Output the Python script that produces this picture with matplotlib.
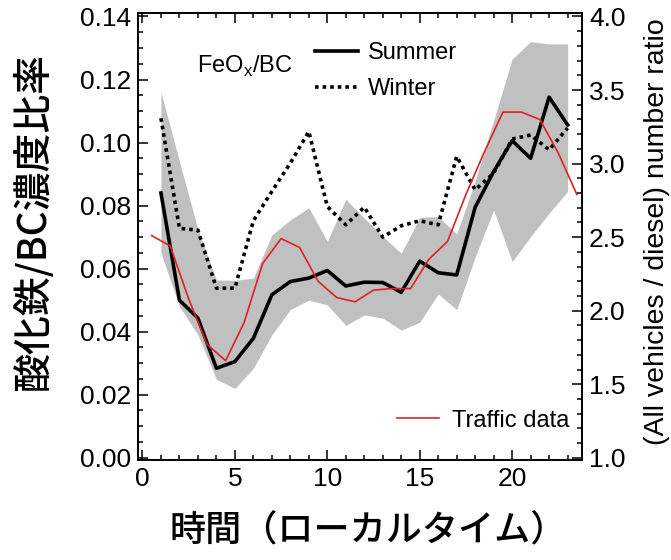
import matplotlib
matplotlib.use("Agg")
import matplotlib.pyplot as plt
from matplotlib.ticker import MultipleLocator
from matplotlib.lines import Line2D

plt.rcParams['font.family'] = ['Liberation Sans', 'Noto Sans CJK JP', 'DejaVu Sans']
plt.rcParams['mathtext.fontset'] = 'custom'
plt.rcParams['mathtext.rm'] = 'Liberation Sans'

# 時刻 (ローカルタイム)
hours = list(range(1, 24))
traffic_hours = [h + 0.5 for h in range(0, 24)]

# FeOx/BC 比 (夏・冬) と夏の変動幅
summer = [0.084, 0.050, 0.0443, 0.0284, 0.0305, 0.0379, 0.0517, 0.0559, 0.057, 0.0594,
          0.0545, 0.0557, 0.0556, 0.0525, 0.0624, 0.0587, 0.058, 0.0795, 0.0908, 0.1006,
          0.095, 0.1144, 0.1056]
winter = [0.1077, 0.0728, 0.0722, 0.0538, 0.0538, 0.0752, 0.0845, 0.0935, 0.1035, 0.0797,
          0.0739, 0.0795, 0.070, 0.0736, 0.0752, 0.0739, 0.0956, 0.085, 0.0903, 0.1011,
          0.1024, 0.0977, 0.1046]
band_upper = [0.116, 0.094, 0.0725, 0.0564, 0.0563, 0.057, 0.0707, 0.0755, 0.0793, 0.0686,
              0.082, 0.076, 0.0702, 0.0649, 0.0763, 0.0765, 0.071, 0.0878, 0.107, 0.1265,
              0.132, 0.1313, 0.1313]
band_lower = [0.065, 0.048, 0.039, 0.0249, 0.022, 0.0284, 0.039, 0.047, 0.050, 0.0485,
              0.042, 0.0453, 0.0443, 0.0405, 0.043, 0.052, 0.047, 0.0637, 0.0786, 0.0622,
              0.0702, 0.0776, 0.0845]

# 交通量データ (全車両 / ディーゼル車 台数比)
traffic = [2.51, 2.44, 2.08, 1.77, 1.66, 1.92, 2.32, 2.49, 2.43, 2.20, 2.09, 2.06,
           2.14, 2.15, 2.15, 2.35, 2.47, 2.79, 3.08, 3.35, 3.35, 3.30, 3.07, 2.79]

fig = plt.figure(figsize=(6.71, 5.6), dpi=100)
ax = fig.add_axes([0.2057, 0.1786, 0.6617, 0.7982])
ax2 = ax.twinx()

ax.fill_between(hours, band_lower, band_upper, color='#c0c0c0', lw=0, zorder=1)
ax.plot(hours, summer, color='black', lw=2.6, zorder=3)
ax.plot(hours, winter, color='black', lw=2.6, linestyle=(0, (1, 1.1)), zorder=3)
ax2.plot(traffic_hours, traffic, color='#e02020', lw=1.2)

ax.set_xlim(-0.24, 23.78)
ax.set_ylim(-0.0007, 0.1411)
ax2.set_ylim(1 - 0.0007 * 3 / 0.14, 1 + 0.1411 * 3 / 0.14)

ax.xaxis.set_major_locator(MultipleLocator(5))
ax.xaxis.set_minor_locator(MultipleLocator(1))
ax.yaxis.set_major_locator(MultipleLocator(0.02))
ax.yaxis.set_minor_locator(MultipleLocator(0.005))
ax.yaxis.set_major_formatter(matplotlib.ticker.FormatStrFormatter('%.2f'))
ax2.yaxis.set_major_locator(MultipleLocator(0.5))
ax2.yaxis.set_minor_locator(MultipleLocator(0.1))
ax2.yaxis.set_major_formatter(matplotlib.ticker.FormatStrFormatter('%.1f'))

for a in (ax, ax2):
    a.tick_params(which='major', direction='in', length=7, width=1.1, labelsize=19, pad=5)
    a.tick_params(which='minor', direction='in', length=3.5, width=1.1)
    for s in a.spines.values():
        s.set_linewidth(1.2)
ax.tick_params(which='both', top=True, right=False)
ax2.tick_params(which='both', left=False, right=True)

# 凡例
leg = ax.legend(handles=[Line2D([], [], color='black', lw=2.6),
                         Line2D([], [], color='black', lw=2.6, linestyle=(0, (1, 1.1)))],
                labels=['Summer', 'Winter'], loc='upper left',
                bbox_to_anchor=(0.399, 0.935), frameon=False, fontsize=17,
                handlelength=1.8, handletextpad=0.45, labelspacing=0.6,
                borderpad=0, borderaxespad=0)
ax2.legend(handles=[Line2D([], [], color='#e02020', lw=1.2)], labels=['Traffic data'],
           loc='center left', bbox_to_anchor=(0.583, 0.088), frameon=False, fontsize=17,
           handlelength=1.8, handletextpad=0.55, borderpad=0, borderaxespad=0)
ax.text(0.132, 0.866, 'FeO$_\\mathregular{x}$/BC', transform=ax.transAxes,
        fontsize=17, va='baseline', ha='left')

cjk = ['Noto Sans CJK JP', 'DejaVu Sans']
fig.text(34 / 671, 1 - 222 / 560, '酸化鉄/BC濃度比率', rotation=90, ha='center', va='center',
         fontsize=28, fontweight='medium', family=cjk)
fig.text(368 / 671, 1 - 531 / 560, '時間（ローカルタイム）', ha='center', va='center',
         fontsize=26, fontweight='medium', family=cjk)
fig.text(657 / 671, 1 - 232 / 560, '(All vehicles / diesel) number ratio', rotation=90,
         ha='center', va='center', fontsize=20.5)

fig.savefig('out.png', dpi=100)
